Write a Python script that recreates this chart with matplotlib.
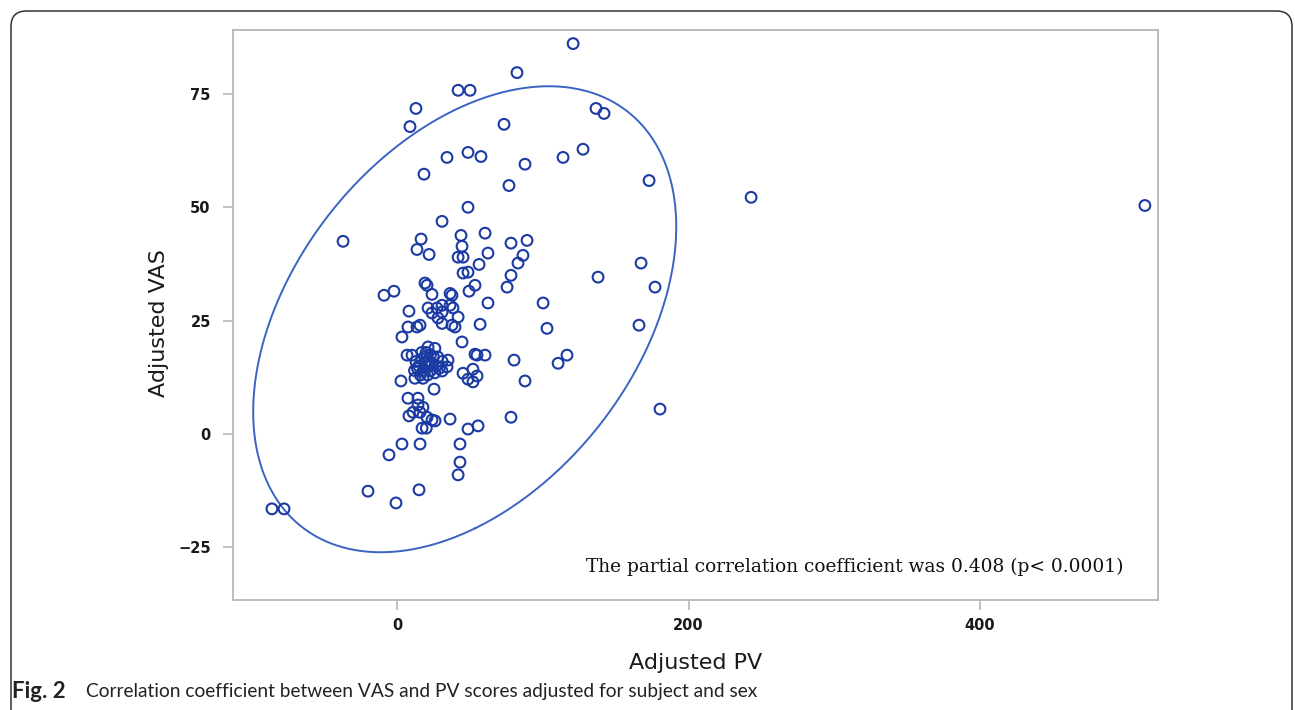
import numpy as np
import matplotlib
matplotlib.use("Agg")
import matplotlib.pyplot as plt
from matplotlib.patches import FancyBboxPatch

# ---- data ----
adjusted_pv = [
    120.8, 82.3, 41.9, 50.1, 13.0, 8.9, 136.5, 142.0, 73.4,
    34.3, 48.7, 57.6, 18.5, 87.8, 113.9, 127.6, 172.9, 76.8,
    48.7, 30.9, -37.0, 242.9, 513.0,
    16.5, 13.7, 22.0, 43.9, 44.6, 41.9, 45.3, 60.4, 62.4, 56.3, 78.2, 89.2, 86.4, 83.0, 78.2, 75.5, 45.3, 48.7, 53.5, 49.4,
    167.4, 137.9, 177.0, 100.2, 102.9, 166.0,
    -8.9, -2.1, 19.2, 20.6, 24.0, 36.4, 37.7, 62.4,
    8.2, 21.3, 27.4, 30.9, 36.4, 24.0, 30.9, 38.4, 41.9, 28.1, 30.9, 37.7, 39.8, 15.8, 13.7, 7.5, 57.0, 3.4, 44.6,
    6.9, 10.3, 21.3, 26.0, 35.0, 34.3, 30.9, 2.7, 12.3, 17.8, 25.4,
    13.0, 15.0, 17.0, 19.0, 20.0, 22.0, 23.0, 18.0, 16.0, 21.0, 24.0, 25.0, 14.0, 19.0, 27.0, 29.0, 31.0, 20.0, 17.0, 23.0, 26.0, 12.0, 28.0,
    53.5, 54.9, 60.4, 80.3, 45.3, 52.1, 54.9, 48.7, 52.1, 87.8, 110.5, 116.6, 180.4,
    7.5, 14.4, 14.4, 17.8, 11.0, 8.2, 15.8, 20.6, 24.0, 26.1, 17.2, 20.1, 36.4, 48.7, 55.6, 78.2,
    3.4, 15.8, 43.2, -5.5, 43.2, 41.9, -19.9, 15.1, -0.7, -85.8, -77.5,
]
adjusted_vas = [
    86.1, 79.7, 75.8, 75.8, 71.8, 67.8, 71.8, 70.7, 68.3,
    61.0, 62.1, 61.2, 57.3, 59.5, 61.0, 62.8, 55.9, 54.8,
    50.0, 46.9, 42.5, 52.2, 50.4,
    43.0, 40.7, 39.6, 43.8, 41.4, 39.0, 39.0, 44.3, 39.9, 37.4, 42.1, 42.7, 39.4, 37.7, 35.0, 32.4, 35.5, 35.7, 32.8, 31.5,
    37.7, 34.6, 32.4, 28.9, 23.3, 24.0,
    30.6, 31.5, 33.3, 32.8, 30.8, 31.0, 30.6, 28.9,
    27.1, 27.8, 27.8, 28.4, 28.4, 26.7, 26.9, 27.8, 25.8, 25.6, 24.4, 24.0, 23.6, 24.0, 23.6, 23.6, 24.2, 21.4, 20.3,
    17.4, 17.4, 19.2, 18.9, 16.3, 14.8, 13.9, 11.7, 12.3, 12.3, 9.9,
    16.0, 15.0, 16.5, 17.0, 15.0, 16.0, 14.0, 14.0, 13.0, 13.0, 15.5, 17.0, 14.5, 15.5, 15.0, 14.5, 16.0, 18.0, 18.0, 17.5, 13.5, 14.0, 17.0,
    17.6, 17.4, 17.4, 16.3, 13.4, 14.3, 12.8, 12.1, 11.5, 11.7, 15.6, 17.4, 5.5,
    7.9, 7.9, 6.4, 5.9, 4.8, 4.0, 4.8, 3.7, 3.1, 2.9, 1.3, 1.3, 3.3, 1.1, 1.8, 3.7,
    -2.2, -2.2, -2.2, -4.6, -6.2, -9.0, -12.6, -12.3, -15.2, -16.5, -16.5,
]
x_ticks = [0, 200, 400]
y_ticks = [-25, 0, 25, 50, 75]
x_label = "Adjusted PV"
y_label = "Adjusted VAS"
annotation = "The partial correlation coefficient was 0.408 (p< 0.0001)"
caption_bold = "Fig. 2"
caption_text = "Correlation coefficient between VAS and PV scores adjusted for subject and sex"

marker_color = "#1b3aa3"
ellipse_color = "#3a63c2"
frame_color = "#b4b8bc"

x = np.array(adjusted_pv)
y = np.array(adjusted_vas)

fig = plt.figure(figsize=(12.95, 7.10), dpi=100)
ax = fig.add_axes([233 / 1295, 1 - 600 / 710, (1158 - 233) / 1295, (600 - 30) / 710])

ax.scatter(x, y, s=60, facecolors="none", edgecolors=marker_color, linewidths=1.5, zorder=3)

# 95% density ellipse from the data's mean and covariance
mean = np.array([x.mean(), y.mean()])
cov = np.cov(np.vstack([x, y]))
vals, vecs = np.linalg.eigh(cov)
t = np.linspace(0, 2 * np.pi, 400)
k = np.sqrt(5.991)
circle = np.vstack([np.cos(t), np.sin(t)])
pts = vecs @ (np.sqrt(vals)[:, None] * k * circle) + mean[:, None]
ax.plot(pts[0], pts[1], color=ellipse_color, lw=1.4, zorder=2)

ax.set_xlim(-112.5, 522)
ax.set_ylim(-36.6, 89.1)
ax.set_xticks(x_ticks)
ax.set_yticks(y_ticks)
for s in ax.spines.values():
    s.set_color(frame_color)
    s.set_linewidth(1.3)
ax.tick_params(axis="both", color=frame_color, length=7, width=1.2, labelsize=10.5)
ax.tick_params(axis="x", pad=6)
ax.tick_params(axis="y", pad=9)
for lab in ax.get_xticklabels() + ax.get_yticklabels():
    lab.set_fontweight("bold")
    lab.set_color("#1a1a1a")

ax.set_xlabel(x_label, fontsize=16, color="#1a1a1a")
ax.set_ylabel(y_label, fontsize=16, color="#1a1a1a")
ax.xaxis.set_label_coords(0.5, -0.093)
ax.yaxis.set_label_coords(-0.069, 0.486)

ax.text((1124 - 233) / 925, (600 - 567) / 570, annotation, transform=ax.transAxes,
        ha="right", va="center", family="DejaVu Serif", fontsize=13.4, color="#111111")

# outer rounded frame (open at bottom)
box = FancyBboxPatch((11 / 1295, -0.2), (1292 - 11) / 1295, (1 - 11 / 710) + 0.2,
                     boxstyle="round,pad=0,rounding_size=0.012", transform=fig.transFigure,
                     fill=False, edgecolor="#333333", linewidth=1.1, mutation_aspect=1295 / 710)
fig.patches.append(box)

fig.text(12 / 1295, 1 - 692 / 710, caption_bold, family="Lato", fontweight="bold",
         fontsize=16, va="center", ha="left", color="#222222")
fig.text(86 / 1295, 1 - 692 / 710, caption_text, family="Lato",
         fontsize=13.8, va="center", ha="left", color="#222222")

fig.savefig("out.png", dpi=100)
